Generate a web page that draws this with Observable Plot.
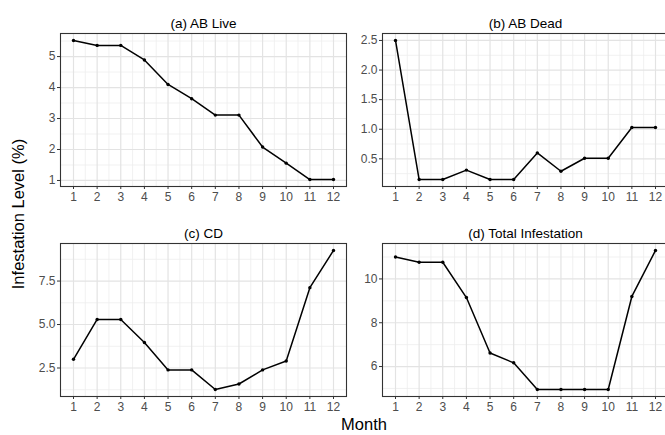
<!DOCTYPE html>
<html>
<head>
<meta charset="utf-8">
<script src="https://cdn.jsdelivr.net/npm/d3@7"></script>
<script src="https://cdn.jsdelivr.net/npm/@observablehq/plot@0.6"></script>
<style>
  html, body { margin: 0; padding: 0; background: #fff; }
  #wrap { position: relative; width: 665px; height: 435px; overflow: hidden; background: #fff;
          font-family: "Liberation Sans", Arial, Helvetica, sans-serif; }
  .panel { position: absolute; }
  .axtitle { position: absolute; font-size: 16.5px; color: #000; white-space: nowrap; line-height: 1; }
</style>
</head>
<body>
<div id="wrap"></div>
<script>
// ---- data ----
const months = [1, 2, 3, 4, 5, 6, 7, 8, 9, 10, 11, 12];
const abLive = [5.52, 5.36, 5.36, 4.89, 4.10, 3.64, 3.11, 3.11, 2.08, 1.56, 1.03, 1.03];
const abDead = [2.50, 0.15, 0.15, 0.31, 0.15, 0.15, 0.60, 0.29, 0.51, 0.51, 1.03, 1.03];
const cd = [3.00, 5.29, 5.29, 3.97, 2.39, 2.39, 1.26, 1.58, 2.39, 2.90, 7.12, 9.26];
const total = [11.00, 10.76, 10.76, 9.15, 6.62, 6.17, 4.95, 4.95, 4.95, 4.95, 9.20, 11.30];

const titles = ["(a) AB Live", "(b) AB Dead", "(c) CD", "(d) Total Infestation"];
const ticksA = [1, 2, 3, 4, 5];
const ticksB = [0.5, 1.0, 1.5, 2.0, 2.5];
const ticksC = [2.5, 5.0, 7.5];
const ticksD = [6, 8, 10];
const xLabel = "Month";
const yLabel = "Infestation Level (%)";

// ---- drawing ----
const wrap = document.getElementById("wrap");
const xdom = [1 - 0.55, 12 + 0.55];
const xMinor = months.slice(0, -1).map(m => m + 0.5);

function expand([lo, hi]) { const p = (hi - lo) * 0.05; return [lo - p, hi + p]; }

function minorOf(ticks, dom) {
  const step = ticks[1] - ticks[0];
  const out = [];
  for (let v = ticks[0] - step / 2; v <= dom[1]; v += step) if (v >= dom[0]) out.push(v);
  return out;
}

function panel(values, ticks, fmt, title, left, top) {
  const data = months.map((m, i) => ({month: m, value: values[i]}));
  const ydom = expand(d3.extent(values));
  const yMinor = minorOf(ticks, ydom);
  const chart = Plot.plot({
    width: 350, height: 215,
    marginLeft: 60, marginRight: 4, marginTop: 33, marginBottom: 29,
    x: {domain: xdom, axis: null},
    y: {domain: ydom, axis: null},
    style: {fontFamily: "'Liberation Sans', Arial, sans-serif", fontSize: "12px", background: "transparent", overflow: "visible"},
    marks: [
      Plot.ruleX(xMinor, {stroke: "#eeeeee", strokeWidth: 0.8}),
      Plot.ruleY(yMinor, {stroke: "#eeeeee", strokeWidth: 0.8}),
      Plot.ruleX(months, {stroke: "#e3e3e3", strokeWidth: 1.2}),
      Plot.ruleY(ticks, {stroke: "#e3e3e3", strokeWidth: 1.2}),
      Plot.line(data, {x: "month", y: "value", stroke: "#000", strokeWidth: 1.5}),
      Plot.dot(data, {x: "month", y: "value", r: 1.7, fill: "#000"}),
      Plot.frame({stroke: "#333", strokeWidth: 1.1}),
      Plot.axisX({ticks: months, tickSize: 3, tickPadding: 3, stroke: "#333", fill: "#4d4d4d", label: null}),
      Plot.axisY({ticks: ticks, tickFormat: fmt, tickSize: 3, tickPadding: 2, stroke: "#333", fill: "#4d4d4d", label: null}),
      Plot.text([title], {frameAnchor: "top", dy: -15, fontSize: 13.5, fill: "#000"})
    ]
  });
  chart.classList.add("panel");
  chart.style.left = left + "px";
  chart.style.top = top + "px";
  wrap.appendChild(chart);
}

panel(abLive, ticksA, d3.format("d"), titles[0], 0, 0);
panel(abDead, ticksB, d3.format(".1f"), titles[1], 322, 0);
panel(cd, ticksC, d3.format(".1f"), titles[2], 0, 210);
panel(total, ticksD, d3.format("d"), titles[3], 322, 210);

const xl = document.createElement("div");
xl.className = "axtitle";
xl.textContent = xLabel;
xl.style.left = "364px";
xl.style.top = "416px";
xl.style.transform = "translateX(-50%)";
wrap.appendChild(xl);

const yl = document.createElement("div");
yl.className = "axtitle";
yl.textContent = yLabel;
yl.style.left = "18px";
yl.style.top = "214px";
yl.style.transform = "translate(-50%, -50%) rotate(-90deg)";
wrap.appendChild(yl);
</script>
</body>
</html>
